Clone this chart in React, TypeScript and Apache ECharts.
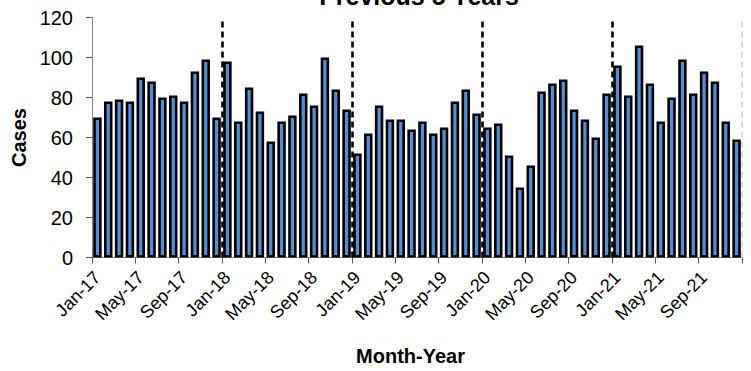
import React, { useEffect, useRef } from "react";
import * as echarts from "echarts";

const monthNames = ["Jan", "Feb", "Mar", "Apr", "May", "Jun", "Jul", "Aug", "Sep", "Oct", "Nov", "Dec"];
const years = ["17", "18", "19", "20", "21"];
const categories: string[] = years.flatMap((y) => monthNames.map((m) => `${m}-${y}`));

const cases: number[] = [
  70, 78, 79, 78, 90, 88, 80, 81, 78, 93, 99, 70,
  98, 68, 85, 73, 58, 68, 71, 82, 76, 100, 84, 74,
  52, 62, 76, 69, 69, 64, 68, 62, 65, 78, 84, 72,
  65, 67, 51, 35, 46, 83, 87, 89, 74, 69, 60, 82,
  96, 81, 106, 87, 68, 80, 99, 82, 93, 88, 68, 59,
];

// year boundaries, in month units from the start of Jan-17
const yearBoundaries: number[] = [12, 24, 36, 48];
const endBoundary: number[] = [60];

const FONT = "'Liberation Sans', Arial, sans-serif";

export default function App() {
  const ref = useRef<HTMLDivElement>(null);
  useEffect(() => {
    if (!ref.current) return;
    const chart = echarts.init(ref.current, null, { renderer: "svg" });
    chart.setOption({
      animation: false,
      backgroundColor: "#fff",
      title: {
        text: "Previous 5 Years",
        left: 414,
        top: -22,
        textAlign: "center",
        textStyle: { fontFamily: FONT, fontSize: 25, fontWeight: "bold", color: "#000" },
      },
      grid: { left: 92, right: 9, top: 17.5, bottom: 113.5, containLabel: false },
      xAxis: [
        {
          type: "category",
          data: categories,
          boundaryGap: true,
          axisLine: { show: true, lineStyle: { color: "#868686", width: 1 } },
          axisTick: { show: true, interval: 3, length: 6, lineStyle: { color: "#555" } },
          axisLabel: {
            interval: 3,
            rotate: 45,
            margin: 17,
            fontFamily: FONT,
            fontSize: 18,
            color: "#000",
          },
          name: "Month-Year",
          nameLocation: "middle",
          nameGap: 88,
          nameTextStyle: {
            fontFamily: FONT,
            fontSize: 20,
            fontWeight: "bold",
            color: "#000",
            padding: [0, 13, 0, 0],
          },
        },
        { type: "value", min: 0, max: 60, show: false },
      ],
      yAxis: {
        type: "value",
        min: 0,
        max: 120,
        interval: 20,
        splitLine: { show: false },
        axisLine: { show: true, lineStyle: { color: "#868686", width: 1 } },
        axisTick: { show: true, length: 6, lineStyle: { color: "#555" } },
        axisLabel: { margin: 19, fontFamily: FONT, fontSize: 20, color: "#000" },
        name: "Cases",
        nameLocation: "middle",
        nameGap: 60,
        nameTextStyle: { fontFamily: FONT, fontSize: 20, fontWeight: "bold", color: "#000" },
      },
      series: [
        {
          type: "bar",
          xAxisIndex: 0,
          data: cases,
          barWidth: "78%",
          itemStyle: { color: "#558ed5", borderColor: "#000", borderWidth: 2.6 },
        },
        {
          type: "line",
          xAxisIndex: 1,
          yAxisIndex: 0,
          data: [],
          z: 5,
          markLine: {
            silent: true,
            symbol: "none",
            label: { show: false },
            lineStyle: { color: "#000", width: 2.6, type: [6, 4] },
            data: yearBoundaries.map((v) => ({ xAxis: v })),
          },
        },
        {
          type: "line",
          xAxisIndex: 1,
          yAxisIndex: 0,
          data: [],
          z: 1,
          markLine: {
            silent: true,
            symbol: "none",
            label: { show: false },
            lineStyle: { color: "#cfcfcf", width: 1.5, type: [6, 4] },
            data: endBoundary.map((v) => ({ xAxis: v })),
          },
        },
      ],
    });
    return () => chart.dispose();
  }, []);
  return (
    <div
      ref={ref}
      style={{ position: "fixed", left: 0, top: 0, width: 751, height: 371 }}
    />
  );
}
